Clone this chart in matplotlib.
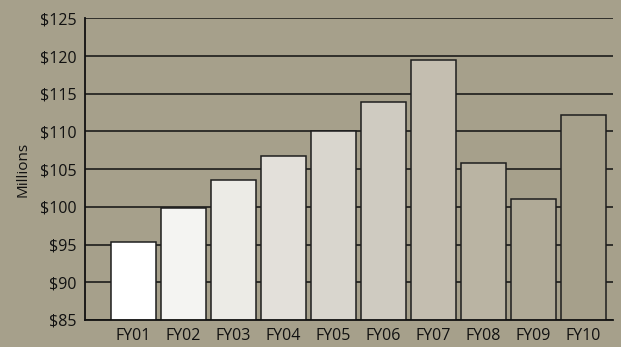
import matplotlib.pyplot as plt

years = ['FY01', 'FY02', 'FY03', 'FY04', 'FY05', 'FY06', 'FY07', 'FY08', 'FY09', 'FY10']
millions = [95.4, 99.8, 103.6, 106.7, 110.1, 113.9, 119.5, 105.8, 101.0, 112.2]
bar_colors = ['#ffffff', '#f4f4f2', '#ecebe6', '#e3e0da', '#d9d6ce',
              '#cfcbc1', '#c4beb0', '#bab4a3', '#b0aa97', '#a6a08b']
y_ticks = [85, 90, 95, 100, 105, 110, 115, 120, 125]

bg = '#a6a08b'
plt.rcParams['font.family'] = ['Open Sans', 'DejaVu Sans']

fig = plt.figure(figsize=(6.21, 3.47), dpi=100, facecolor=bg)
ax = fig.add_axes([85 / 621, 1 - 320 / 347, (613 - 85) / 621, (320 - 18.3) / 347])
ax.set_facecolor(bg)

x = list(range(len(years)))
ax.bar(x, millions, width=0.9, bottom=0, color=bar_colors,
       edgecolor='#1e1e1e', linewidth=1.1, zorder=3)

ax.set_ylim(85, 125)
ax.set_xlim(-0.97, 9.59)
ax.set_yticks(y_ticks)
ax.set_yticklabels(['$%d' % v for v in y_ticks], fontsize=11.5, color='#111111')
ax.set_xticks(x)
ax.set_xticklabels(years, fontsize=11.5, color='#111111')
ax.tick_params(axis='y', length=0, pad=6)
ax.tick_params(axis='x', length=0, pad=6)

ax.yaxis.grid(True, color='#111111', linewidth=1.1, zorder=1)
ax.set_axisbelow(True)

for s in ['top', 'right']:
    ax.spines[s].set_visible(False)
for s in ['left', 'bottom']:
    ax.spines[s].set_color('#111111')
    ax.spines[s].set_linewidth(1.3)
    ax.spines[s].set_zorder(4)

ax.set_ylabel('Millions', fontsize=11, color='#111111', labelpad=7)

fig.savefig('out.png', dpi=100, facecolor=bg)
